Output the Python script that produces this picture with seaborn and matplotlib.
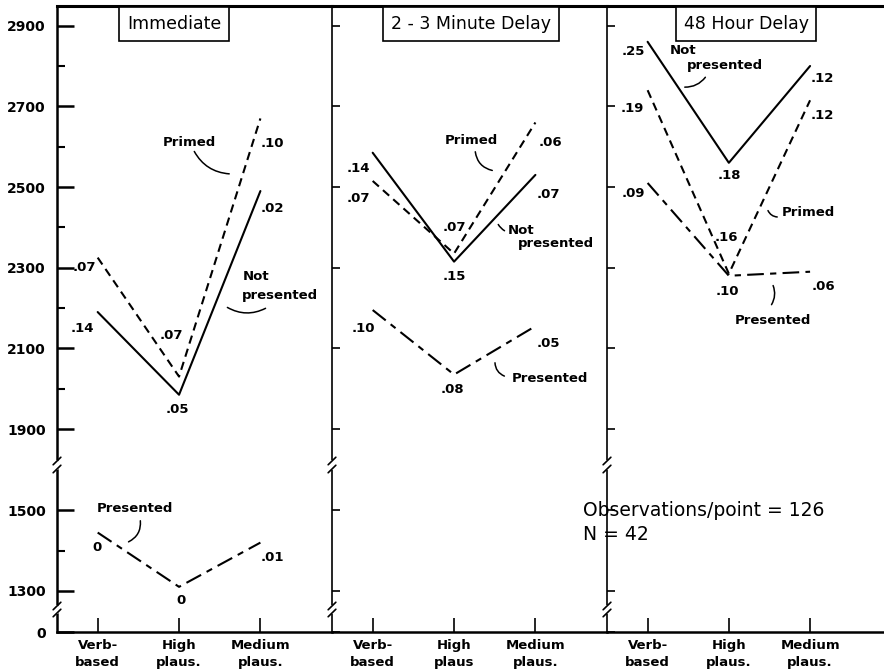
import numpy as np
import pandas as pd
import matplotlib
matplotlib.use("Agg")
import matplotlib.pyplot as plt
from matplotlib.patches import FancyArrowPatch
import seaborn as sns

# ---------------- data ----------------
categories = ["Verb-based", "High plaus.", "Medium plaus."]
panel_titles = ["Immediate", "2 - 3 Minute Delay", "48 Hour Delay"]
conditions = ["Not presented", "Primed", "Presented"]

immediate_not_presented = [2190, 1985, 2490]
immediate_primed = [2325, 2030, 2670]
immediate_presented = [1445, 1310, 1420]
short_delay_not_presented = [2585, 2315, 2530]
short_delay_primed = [2515, 2335, 2660]
short_delay_presented = [2195, 2035, 2155]
long_delay_not_presented = [2860, 2560, 2800]
long_delay_primed = [2740, 2285, 2715]
long_delay_presented = [2510, 2280, 2290]

immediate_not_presented_err = [".14", ".05", ".02"]
immediate_primed_err = [".07", ".07", ".10"]
immediate_presented_err = ["0", "0", ".01"]
short_delay_not_presented_err = [".14", ".15", ".07"]
short_delay_primed_err = [".07", ".07", ".06"]
short_delay_presented_err = [".10", ".08", ".05"]
long_delay_not_presented_err = [".25", ".18", ".12"]
long_delay_primed_err = [".19", ".16", ".12"]
long_delay_presented_err = [".09", ".10", ".06"]

ytick_major = [0, 1300, 1500, 1900, 2100, 2300, 2500, 2700, 2900]
ytick_labels = ["0", "1300", "1500", "1900", "2100", "2300", "2500", "2700", "2900"]
ytick_minor = [1400, 2000, 2200, 2400, 2600, 2800]
xtick_labels = [["Verb-\nbased", "High\nplaus.", "Medium\nplaus."],
                ["Verb-\nbased", "High\nplaus", "Medium\nplaus."],
                ["Verb-\nbased", "High\nplaus.", "Medium\nplaus."]]
note_lines = ["Observations/point = 126", "N = 42"]

values = {
    0: {"Not presented": immediate_not_presented, "Primed": immediate_primed,
        "Presented": immediate_presented},
    1: {"Not presented": short_delay_not_presented, "Primed": short_delay_primed,
        "Presented": short_delay_presented},
    2: {"Not presented": long_delay_not_presented, "Primed": long_delay_primed,
        "Presented": long_delay_presented},
}
errors = {
    0: {"Not presented": immediate_not_presented_err, "Primed": immediate_primed_err,
        "Presented": immediate_presented_err},
    1: {"Not presented": short_delay_not_presented_err, "Primed": short_delay_primed_err,
        "Presented": short_delay_presented_err},
    2: {"Not presented": long_delay_not_presented_err, "Primed": long_delay_primed_err,
        "Presented": long_delay_presented_err},
}

rows = []
for p in range(3):
    for c in conditions:
        for i, cat in enumerate(categories):
            rows.append({"panel": p, "condition": c, "pos": i, "category": cat,
                         "rt": values[p][c][i], "err": errors[p][c][i]})
df = pd.DataFrame(rows)

# ---------------- style ----------------
sns.set_style("ticks")
plt.rcParams["font.family"] = ["DejaVu Sans"]
for key in ["text.color", "axes.edgecolor", "axes.labelcolor", "xtick.color",
            "ytick.color"]:
    plt.rcParams[key] = "black"

W, H = 884, 670
fig = plt.figure(figsize=(W / 100, H / 100), dpi=100)

# broken y axis as a piecewise-linear scale
real_knots = [-10000, 0, 1240, 1610, 1820, 2950, 10000]
disp_knots = [-769.1, -632, -615, -466.2, -461.3, -5.5, 2839.2]


def fwd(v):
    return np.interp(v, real_knots, disp_knots)


def inv(d):
    return np.interp(d, disp_knots, real_knots)


def fpx(px, py):
    return (px / W, 1 - py / H)


bottom_px, top_px = 632, 5.5
lefts = [57, 332, 607]
widths = [275, 275, 277]
axes = []
for p in range(3):
    ax = fig.add_axes([lefts[p] / W, (H - bottom_px) / H, widths[p] / W,
                       (bottom_px - top_px) / H])
    axes.append(ax)

dashes = {"Not presented": "", "Primed": (4, 2.6), "Presented": (8, 3, 3, 3)}

# label offsets in pixels (dx right, dy down)
offsets = {
    0: {"Not presented": [(-15, 16), (-2, 15), (12, 17)],
        "Primed": [(-13, 10), (-8, -41), (12, 25)],
        "Presented": [(-1, 15), (2, 14), (12, 15)]},
    1: {"Not presented": [(-14, 16), (0, 15), (13, 20)],
        "Primed": [(-14, 18), (0, -26), (15, 20)],
        "Presented": [(-9, 18), (-2, 15), (13, 17)]},
    2: {"Not presented": [(-14, 10), (1, 13), (12, 12)],
        "Primed": [(-15, 18), (-2, -36), (12, 15)],
        "Presented": [(-14, 11), (-1, 16), (13, 15)]},
}

for p, ax in enumerate(axes):
    sub = df[df["panel"] == p]
    sns.lineplot(data=sub, x="pos", y="rt", style="condition", dashes=dashes,
                 color="black", lw=1.5, legend=False, estimator=None, sort=False,
                 ax=ax)
    ax.set_yscale("function", functions=(fwd, inv))
    ax.set_ylim(0, 2950)
    ax.set_xlim(-0.5, 2.88 if p < 2 else 2.91)
    ax.set_xlabel("")
    ax.set_ylabel("")
    ax.set_xticks(range(len(categories)))
    ax.set_xticklabels(xtick_labels[p], fontsize=9.5, fontweight="bold",
                       linespacing=1.45)
    ax.tick_params(axis="x", direction="in", length=10, width=1.2, pad=5)
    ax.set_yticks(ytick_major)
    if p == 0:
        ax.set_yticks(ytick_minor, minor=True)
        ax.set_yticklabels(ytick_labels, fontsize=10, fontweight="bold")
        ax.tick_params(axis="y", which="major", direction="in", length=12,
                       width=1.8, pad=8)
        ax.tick_params(axis="y", which="minor", direction="in", length=6,
                       width=1.5)
    else:
        ax.set_yticks([], minor=True)
        ax.set_yticklabels([])
        ax.tick_params(axis="y", which="major", direction="in", length=6,
                       width=1.2)
    ax.spines["right"].set_visible(False)
    ax.spines["top"].set_linewidth(2.2)
    ax.spines["bottom"].set_linewidth(1.8)
    ax.spines["left"].set_linewidth(1.8 if p == 0 else 1.2)
    ax.patch.set_alpha(0)

    # value labels
    for c in conditions:
        for i in range(3):
            dx, dy = offsets[p][c][i]
            ax.annotate(errors[p][c][i], xy=(i, values[p][c][i]),
                        xytext=(dx * 0.72, -dy * 0.72), textcoords="offset points",
                        ha="center", va="center", fontsize=9.5, fontweight="bold")

    # break marks on the y axis
    for (y1, y2) in [(461, 469), (606, 613)]:
        fy1 = (bottom_px - y1) / (bottom_px - top_px)
        fy2 = (bottom_px - y2) / (bottom_px - top_px)
        gap = 0.5 * (fy1 + fy2)
        ax.plot([0, 0], [gap - 0.004, gap + 0.004], color="white", lw=3,
                transform=ax.transAxes, clip_on=False, zorder=5)
        for fy in (fy1, fy2):
            ax.plot([-0.014, 0.014], [fy - 0.006, fy + 0.006], color="black",
                    lw=1.2, transform=ax.transAxes, clip_on=False, zorder=6)

# panel titles in boxes
title_centers = [(174, 24), (471, 24), (746, 24)]
for t, (cx, cy) in zip(panel_titles, title_centers):
    fig.text(*fpx(cx, cy), t, ha="center", va="center", fontsize=12.5,
             bbox=dict(boxstyle="square,pad=0.45", fc="white", ec="black", lw=1.2))

# condition names
name_labels = [
    ("Primed", 163, 142), ("Not", 243, 277), ("presented", 242, 295),
    ("Presented", 97, 508),
    ("Primed", 445, 140), ("Not", 508, 230), ("presented", 518, 243),
    ("Presented", 512, 379),
    ("Not", 670, 50), ("presented", 687, 65), ("Primed", 782, 213),
    ("Presented", 735, 320),
]
for t, px, py in name_labels:
    fig.text(*fpx(px, py), t, ha="left", va="center", fontsize=9.5,
             fontweight="bold")

leaders = [
    ((193, 149), (232, 174), 0.3), ((225, 306), (268, 307), 0.3),
    ((140, 518), (126, 543), -0.4),
    ((475, 149), (495, 171), 0.4), ((497, 222), (507, 232), 0.2),
    ((495, 360), (507, 377), 0.4),
    ((682, 87), (707, 75), 0.3), ((767, 208), (780, 217), 0.4),
    ((772, 283), (770, 307), -0.3),
]
for p0, p1, rad in leaders:
    fig.add_artist(FancyArrowPatch(fpx(*p0), fpx(*p1), transform=fig.transFigure,
                                   arrowstyle="-", lw=1.1, color="black",
                                   connectionstyle=f"arc3,rad={rad}"))

fig.text(*fpx(583, 510), note_lines[0], ha="left", va="center", fontsize=13.5)
fig.text(*fpx(583, 534), note_lines[1], ha="left", va="center", fontsize=13.5)

fig.savefig("out.png", dpi=100, facecolor="white")
